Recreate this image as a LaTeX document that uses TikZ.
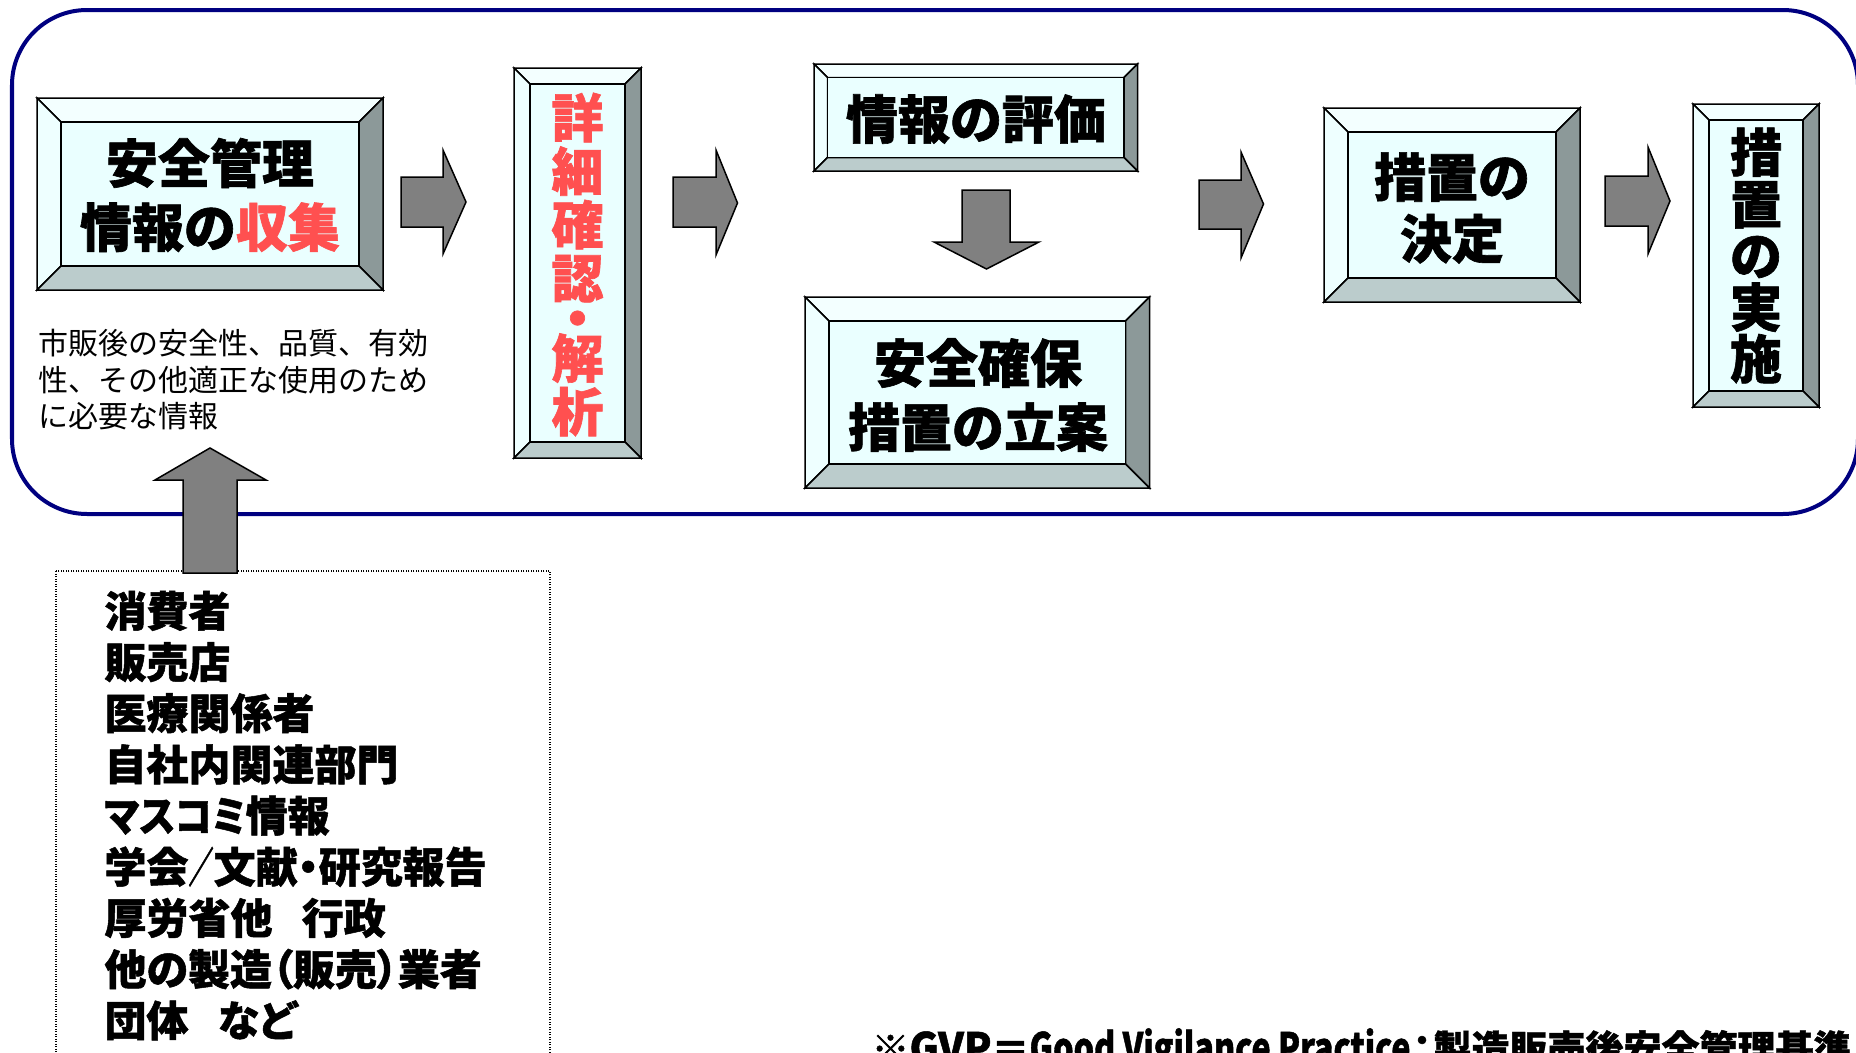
\documentclass[tikz,border=0pt]{standalone}
\usepackage{fontspec}
\usepackage{graphicx}
\usetikzlibrary{fit}
\newfontfamily\jp[BoldFeatures={FakeBold=1.2}]{Noto Sans CJK JP}
\newfontfamily\jpp[RawFeature=+palt,BoldFeatures={FakeBold=1.2}]{Noto Sans CJK JP}
\definecolor{face}{HTML}{EAFFFF}
\definecolor{bvtop}{HTML}{F3FFFF}
\definecolor{bvleft}{HTML}{EEFFFF}
\definecolor{bvright}{HTML}{8C9999}
\definecolor{bvbot}{HTML}{BBCCCC}
\definecolor{navyframe}{HTML}{000080}
\definecolor{arrowgray}{HTML}{808080}
\definecolor{hired}{HTML}{FF5050}
\tikzset{
  bevline/.style={draw=black, line width=0.6pt, line join=miter},
  blockarrow/.style={draw=black, fill=arrowgray, line width=0.6pt},
  boxtext/.style={font=\jp\bfseries\fontsize{20.8pt}{25.6pt}\selectfont, align=center, inner sep=0pt},
  dotbox/.style={draw=black, line width=0.5pt, dash pattern=on 0.5pt off 0.5pt},
}
\newcommand{\bevelbox}[6]{%
  \filldraw[bevline, fill=bvtop] (#2,#3) -- (#4,#3) -- ({#4-#6},{#3+#6}) -- ({#2+#6},{#3+#6}) -- cycle;
  \filldraw[bevline, fill=bvleft] (#2,#3) -- ({#2+#6},{#3+#6}) -- ({#2+#6},{#5-#6}) -- (#2,#5) -- cycle;
  \filldraw[bevline, fill=bvright] (#4,#3) -- (#4,#5) -- ({#4-#6},{#5-#6}) -- ({#4-#6},{#3+#6}) -- cycle;
  \filldraw[bevline, fill=bvbot] (#2,#5) -- (#4,#5) -- ({#4-#6},{#5-#6}) -- ({#2+#6},{#5-#6}) -- cycle;
  \filldraw[bevline, fill=face] ({#2+#6},{#3+#6}) rectangle ({#4-#6},{#5-#6});
  \node[fit={(#2,#3) (#4,#5)}, inner sep=0pt] (#1) {};
}
\newcommand{\rightblock}[8]{%
  \filldraw[blockarrow] (#1,#4) -- (#2,#4) -- (#2,#6) -- (#3,#8) -- (#2,#7) -- (#2,#5) -- (#1,#5) -- cycle;
}
\begin{document}
\begin{tikzpicture}[x=0.4pt, y=-0.4pt]
\clip (0,0) rectangle (1856,1053);
\fill[white] (0,0) rectangle (1856,1053);

% outer frame
\draw[navyframe, line width=1.6pt, rounded corners=30pt] (12,10) rectangle (1858,514);

% boxes
\bevelbox{b1}{37}{98}{383}{290}{24}
\bevelbox{b2}{514}{68}{641}{458}{16}
\bevelbox{b3}{814}{64}{1137.5}{171}{13.5}
\bevelbox{b4}{805}{297}{1149.5}{488}{24}
\bevelbox{b5}{1324}{108}{1580}{302}{24}
\bevelbox{b6}{1693}{104}{1819}{407}{16}

% texts in boxes
\node[boxtext] (t1) at (210,195) {安全管理\\情報の\textcolor{hired}{収集}};
\node[boxtext, text=hired, font=\jp\bfseries\fontsize{20.8pt}{21.4pt}\selectfont] (t2) at (577.5,264.5)
  {詳\\細\\確\\認\\[-5.4pt]・\\[-5.4pt]解\\析};
\node[boxtext] (t3) at (976,119) {情報の評価};
\node[boxtext] (t4) at (978,395) {安全確保\\措置の立案};
\node[boxtext, font=\jp\bfseries\fontsize{20.8pt}{24.6pt}\selectfont] (t5) at (1452,208) {措置の\\決定};
\node[boxtext, font=\jp\bfseries\fontsize{20.8pt}{20.64pt}\selectfont] (t6) at (1756,255.5) {措\\置\\の\\実\\施};

% block arrows
\rightblock{401}{443}{466}{177}{227}{150}{254}{202}
\rightblock{673}{716}{737.5}{177}{227}{150}{255}{203}
\rightblock{1199}{1241}{1263.5}{180}{229}{152}{258}{204}
\rightblock{1605}{1648}{1670}{176}{226}{147}{254}{201}
\filldraw[blockarrow] (962,190) -- (1010,190) -- (1010,242) -- (1039,242) -- (986.5,269) -- (934,242) -- (962,242) -- cycle;

% note under first box
\node[font=\jp\fontsize{12pt}{14.6pt}\selectfont, align=left, anchor=west, inner sep=0pt] (note) at (38,380)
  {市販後の安全性、品質、有効\\性、その他適正な使用のため\\に必要な情報};

% sources box
\draw[dotbox] (56,571) rectangle (550,1100);
\filldraw[blockarrow] (183,573) -- (183,480) -- (155,480) -- (210,448) -- (266,480) -- (237,480) -- (237,573) -- cycle;
\node[font=\jpp\bfseries\fontsize{16.8pt}{20.48pt}\selectfont, align=left, anchor=west, inner sep=0pt] (src) at (104,815.5)
  {消費者\\販売店\\医療関係者\\自社内関連部門\\\scalebox{0.9}[1]{マスコミ}情報\\学会\scalebox{0.6}[1]{／}文献・研究報告\\厚労省他\hspace{0.7em}行政\\他の製造（販売）業者\\団体\hspace{0.7em}など};

% footer
\node[font=\jp\bfseries\fontsize{15.2pt}{18pt}\selectfont, anchor=base west, inner sep=0pt] (gvp) at (871,1063)
  {※\resizebox{32.8pt}{1.1\height}{GVP}＝\resizebox{152.4pt}{1.1\height}{Good Vigilance Practice}\makebox[9.2pt]{：}製造販売後安全管理基準};
\end{tikzpicture}
\end{document}
